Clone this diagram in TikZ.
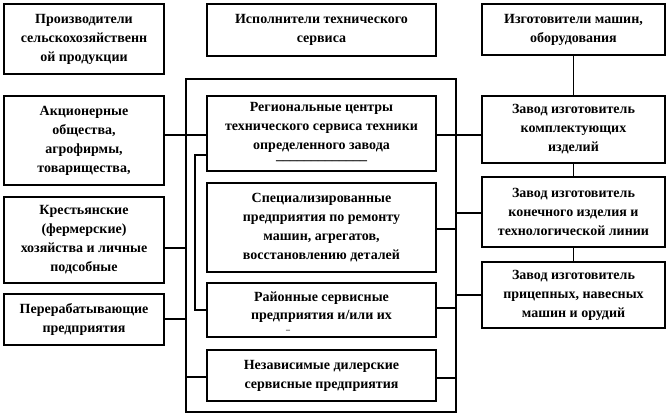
\documentclass[tikz,border=0pt]{standalone}
\usepackage{fontspec}
\setmainfont{Liberation Serif}
\begin{document}
\begin{tikzpicture}[x=1pt,y=-1pt,
  box/.style={draw=black, line width=2pt, fill=white, align=center, inner sep=2pt,
    font=\bfseries\fontsize{14}{19}\selectfont},
  lbox/.style={box, minimum width=160},
  mbox/.style={box, minimum width=229},
  rbox/.style={box, minimum width=183},
  frm/.style={draw=black, line width=2pt},
  conn/.style={line width=1.5pt}]
\useasboundingbox (0,0) rectangle (671,419);
% outer frame
\node[frm, minimum width=270, minimum height=333] (fr) at (321,245.5) {};
% left column
\node[lbox, minimum height=70] (L1) at (84,39) {Производители\\сельскохозяйственн\\ой продукции};
\node[lbox, minimum height=89] (L2) at (84,140.5) {Акционерные\\общества,\\агрофирмы,\\товарищества,};
\node[lbox, minimum height=86] (L3) at (84,240) {Крестьянские\\(фермерские)\\хозяйства и личные\\подсобные};
\node[lbox, minimum height=51] (L4) at (84,319.5) {Перерабатывающие\\предприятия};
% middle column
\node[mbox, minimum height=52] (MT) at (321.5,30) {Исполнители технического\\сервиса};
\node[mbox, minimum height=75] (M1) at (321.5,133.5) {Региональные центры\\технического сервиса техники\\определенного завода\\[-4pt]–––––––––––––};
\node[mbox, minimum height=89] (M2) at (321.5,227.5) {Специализированные\\предприятия по ремонту\\машин, агрегатов,\\восстановлению деталей};
\node[mbox, minimum height=54, text depth=9pt, font=\bfseries\fontsize{14}{18}\selectfont] (M3) at (321.5,310) {Районные сервисные\\предприятия и/или их};
\node[inner sep=0pt, font=\bfseries\fontsize{8}{8}\selectfont] (M3m) at (288,331) {–};
\node[mbox, minimum height=51] (M4) at (321.5,375.5) {Независимые дилерские\\сервисные предприятия};
% right column
\node[rbox, minimum height=51] (R1) at (573.5,29.5) {Изготовители машин,\\оборудования};
\node[rbox, minimum height=67] (R2) at (573.5,129.5) {Завод изготовитель\\комплектующих\\изделий};
\node[rbox, minimum height=70] (R3) at (573.5,212) {Завод изготовитель\\конечного изделия и\\технологической линии};
\node[rbox, minimum height=66] (R4) at (573.5,295) {Завод изготовитель\\прицепных, навесных\\машин и орудий};
% connectors left
\draw[conn] (L2.east |- 0,135) -- (M1.west |- 0,135);
\draw[conn] (L3.east |- 0,248) -- (fr.west |- 0,248);
\draw[conn] (L4.east |- 0,319) -- (fr.west |- 0,319);
\draw[conn] (fr.west |- 0,377) -- (M4.west |- 0,377);
\draw[conn] (M1.west |- 0,155) -- ++(-11,0) |- (M3.west |- 0,310);
% connectors right
\draw[conn] (M1.east |- 0,135) -- (R2.west |- 0,135);
\draw[conn] (M2.east |- 0,229) -- (fr.east |- 0,229);
\draw[conn] (fr.east |- 0,213) -- (R3.west |- 0,213);
\draw[conn] (M3.east |- 0,308) -- (fr.east |- 0,308);
\draw[conn] (fr.east |- 0,295) -- (R4.west |- 0,295);
\draw[conn] (M4.east |- 0,378) -- (fr.east |- 0,378);
% vertical right
\draw[conn] (R1.south) -- (R2.north);
\draw[conn] (R2.south) -- (R3.north);
\draw[conn] (R3.south) -- (R4.north);
\end{tikzpicture}
\end{document}
